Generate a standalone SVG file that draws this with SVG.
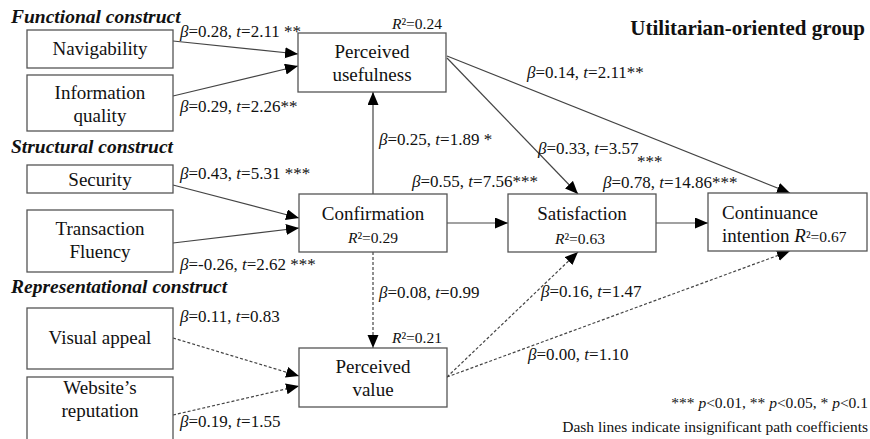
<svg xmlns="http://www.w3.org/2000/svg" width="870" height="439" viewBox="0 0 870 439">
<style>
.box{fill:#fff;stroke:#555;stroke-width:1.3}
.n{font-family:"Liberation Serif","Times New Roman",serif;font-size:19px;fill:#111;text-anchor:middle}
.s{font-family:"Liberation Serif","Times New Roman",serif;font-size:19px;fill:#111;text-anchor:start}
.l{font-family:"Liberation Serif","Times New Roman",serif;font-size:17px;fill:#111}
.r{font-family:"Liberation Serif","Times New Roman",serif;font-size:15.5px;fill:#111}
.h{font-family:"Liberation Serif","Times New Roman",serif;font-size:19.5px;font-weight:bold;font-style:italic;fill:#111}
.f{font-family:"Liberation Serif","Times New Roman",serif;font-size:15.5px;fill:#111;text-anchor:end}
.i{font-style:italic}
.c{fill:none;stroke:#444;stroke-width:1.2}
.d{stroke-dasharray:3,2}
</style>
<defs>
<marker id="ah" markerUnits="userSpaceOnUse" markerWidth="14" markerHeight="12" refX="13" refY="5.5" orient="auto">
<path d="M0,0 L13,5.5 L0,11 z" fill="#000"/>
</marker>
</defs>
<text class="h" x="11" y="23">Functional construct</text>
<text class="h" x="11" y="153">Structural construct</text>
<text class="h" x="11" y="293">Representational construct</text>
<text x="865" y="35" font-family="Liberation Serif,Times New Roman,serif" font-size="21px" font-weight="bold" text-anchor="end" fill="#111">Utilitarian-oriented group</text>
<g id="connectors">
<line class="c" x1="173" y1="41" x2="298" y2="54" marker-end="url(#ah)"/>
<line class="c" x1="173" y1="96" x2="298" y2="66" marker-end="url(#ah)"/>
<line class="c" x1="373" y1="194" x2="373" y2="92" marker-end="url(#ah)"/>
<line class="c" x1="447" y1="56" x2="790" y2="193" marker-end="url(#ah)"/>
<line class="c" x1="447" y1="58" x2="578" y2="194" marker-end="url(#ah)"/>
<line class="c" x1="173" y1="185" x2="299" y2="218" marker-end="url(#ah)"/>
<line class="c" x1="173" y1="243" x2="299" y2="228" marker-end="url(#ah)"/>
<line class="c" x1="447" y1="223" x2="508" y2="223" marker-end="url(#ah)"/>
<line class="c" x1="656" y1="223" x2="708" y2="223" marker-end="url(#ah)"/>
<line class="c d" x1="373" y1="252" x2="373" y2="348" marker-end="url(#ah)"/>
<line class="c d" x1="173" y1="338" x2="299" y2="376" marker-end="url(#ah)"/>
<line class="c d" x1="173" y1="415" x2="299" y2="386" marker-end="url(#ah)"/>
<line class="c d" x1="447" y1="377" x2="578" y2="252" marker-end="url(#ah)"/>
<line class="c d" x1="447" y1="377" x2="790" y2="251" marker-end="url(#ah)"/>
</g>
<g id="navigability"><rect class="box" x="27" y="30" width="146" height="38"/><text class="n" x="100" y="55">Navigability</text></g>
<g id="information-quality"><rect class="box" x="27" y="75" width="146" height="56"/><text class="n" x="100" y="99">Information</text><text class="n" x="100" y="122">quality</text></g>
<g id="perceived-usefulness"><rect class="box" x="298" y="33" width="148" height="59"/><text class="n" x="372" y="58">Perceived</text><text class="n" x="372" y="81">usefulness</text><text class="r" x="392" y="29"><tspan class="i">R</tspan>²=0.24</text></g>
<g id="security"><rect class="box" x="27" y="165" width="146" height="28"/><text class="n" x="100" y="186">Security</text></g>
<g id="transaction-fluency"><rect class="box" x="27" y="210" width="146" height="62"/><text class="n" x="100" y="235">Transaction</text><text class="n" x="100" y="258">Fluency</text></g>
<g id="confirmation"><rect class="box" x="299" y="194" width="148" height="58"/><text class="n" x="373" y="220">Confirmation</text><text class="r" x="373" y="243" text-anchor="middle"><tspan class="i">R</tspan>²=0.29</text></g>
<g id="satisfaction"><rect class="box" x="508" y="194" width="148" height="58"/><text class="n" x="582" y="220">Satisfaction</text><text class="r" x="580" y="244" text-anchor="middle"><tspan class="i">R</tspan>²=0.63</text></g>
<g id="continuance-intention"><rect class="box" x="708" y="193" width="159" height="58"/><text class="s" x="722" y="219">Continuance</text><text class="s" x="722" y="242">intention <tspan class="i">R</tspan><tspan font-size="15.5px">²=0.67</tspan></text></g>
<g id="visual-appeal"><rect class="box" x="27" y="308" width="146" height="61"/><text class="n" x="100" y="344">Visual appeal</text></g>
<g id="website-reputation"><rect class="box" x="27" y="377" width="146" height="70"/><text class="n" x="100" y="394">Website’s</text><text class="n" x="100" y="417">reputation</text></g>
<g id="perceived-value"><rect class="box" x="299" y="348" width="148" height="59"/><text class="n" x="373" y="373">Perceived</text><text class="n" x="373" y="396">value</text><text class="r" x="392" y="343"><tspan class="i">R</tspan>²=0.21</text></g>
<g id="labels">
<text class="l" x="180" y="37"><tspan class="i">β</tspan>=0.28, <tspan class="i">t</tspan>=2.11 **</text>
<text class="l" x="180" y="112"><tspan class="i">β</tspan>=0.29, <tspan class="i">t</tspan>=2.26**</text>
<text class="l" x="527" y="78"><tspan class="i">β</tspan>=0.14, <tspan class="i">t</tspan>=2.11**</text>
<text class="l" x="379" y="145"><tspan class="i">β</tspan>=0.25, <tspan class="i">t</tspan>=1.89 *</text>
<text class="l" x="538" y="154"><tspan class="i">β</tspan>=0.33, <tspan class="i">t</tspan>=3.57</text>
<text class="l" x="637" y="167">***</text>
<text class="l" x="180" y="179"><tspan class="i">β</tspan>=0.43, <tspan class="i">t</tspan>=5.31 ***</text>
<text class="l" x="180" y="270"><tspan class="i">β</tspan>=-0.26, <tspan class="i">t</tspan>=2.62 ***</text>
<text class="l" x="412" y="187"><tspan class="i">β</tspan>=0.55, <tspan class="i">t</tspan>=7.56***</text>
<text class="l" x="603" y="188"><tspan class="i">β</tspan>=0.78, <tspan class="i">t</tspan>=14.86***</text>
<text class="l" x="379" y="298"><tspan class="i">β</tspan>=0.08, <tspan class="i">t</tspan>=0.99</text>
<text class="l" x="541" y="297"><tspan class="i">β</tspan>=0.16, <tspan class="i">t</tspan>=1.47</text>
<text class="l" x="528" y="360"><tspan class="i">β</tspan>=0.00, <tspan class="i">t</tspan>=1.10</text>
<text class="l" x="180" y="322"><tspan class="i">β</tspan>=0.11, <tspan class="i">t</tspan>=0.83</text>
<text class="l" x="180" y="427"><tspan class="i">β</tspan>=0.19, <tspan class="i">t</tspan>=1.55</text>
</g>
<text class="f" x="868" y="408">*** <tspan class="i">p</tspan>&lt;0.01, ** <tspan class="i">p</tspan>&lt;0.05, * <tspan class="i">p</tspan>&lt;0.1</text>
<text class="f" x="868" y="432">Dash lines indicate insignificant path coefficients</text>
</svg>
